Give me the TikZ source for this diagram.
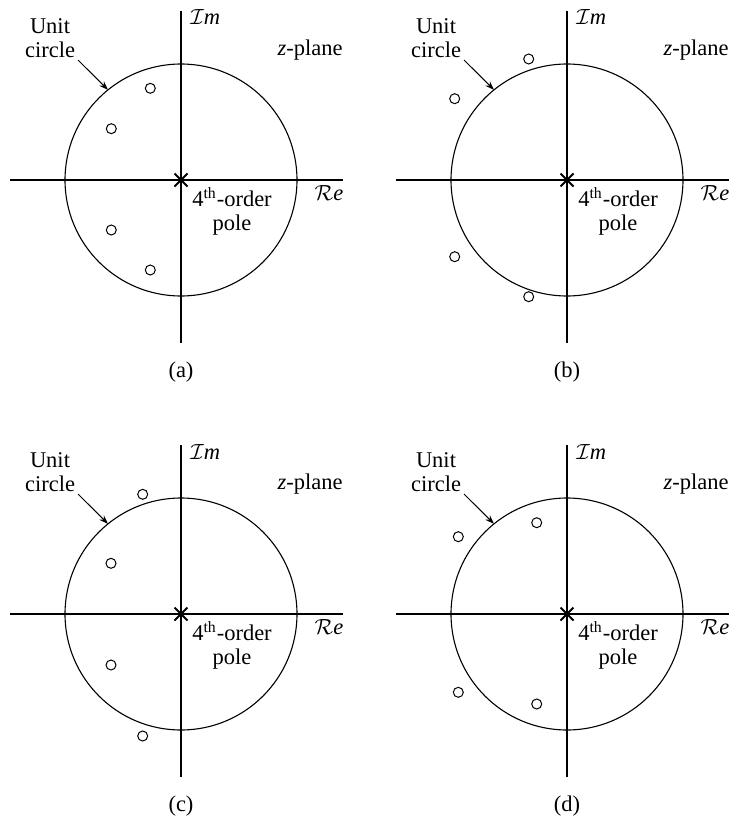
\documentclass[tikz,border=0pt]{standalone}
\usepackage{fontspec}
\setmainfont{Liberation Serif}
\usetikzlibrary{arrows.meta,shapes.misc}
\tikzset{
  axisline/.style={line width=0.55pt},
  ucircle/.style={line width=0.55pt},
  zeromark/.style={circle, draw, line width=0.5pt, minimum size=5pt, inner sep=0pt},
  polemark/.style={cross out, draw, line width=1pt, minimum size=5.5pt, inner sep=0pt},
  lbl/.style={inner sep=0pt, font=\fontsize{11.25}{12}\selectfont},
  ptr/.style={line width=0.5pt, -{Stealth[length=4.5pt,width=3.2pt]}}
}
\newcommand\zplanepanel[8]{%
\begin{scope}[shift={(#2,#3)}]
  \coordinate (#1xl) at (-171,0);
  \coordinate (#1xr) at (162,0);
  \coordinate (#1yb) at (0,-163);
  \coordinate (#1yt) at (0,169);
  \draw[axisline] (#1xl) -- (#1xr);
  \draw[axisline] (#1yb) -- (#1yt);
  \draw[ucircle] (0,0) circle[radius=116];
  \node[polemark] (#1p) at (0,0) {};
  \node[zeromark] (#1z1) at (#5) {};
  \node[zeromark] (#1z2) at (#6) {};
  \node[zeromark] (#1z3) at (#7) {};
  \node[zeromark] (#1z4) at (#8) {};
  \node[lbl, align=center, anchor=base] (#1u) at (-131,123) {Unit\\circle};
  \coordinate (#1us) at (-103,120);
  \coordinate (#1ut) at (129:116);
  \draw[ptr] (#1us) -- (#1ut);
  \node[lbl, anchor=base west] (#1im) at (9,155) {$\mathcal{I}$\textit{m}};
  \node[lbl, anchor=base] (#1zp) at (129,125) {\textit{z}-plane};
  \node[lbl, anchor=base] (#1re) at (148,-20) {$\mathcal{R}$\textit{e}};
  \node[lbl, align=center, anchor=base] (#1pl) at (51,-50) {4\textsuperscript{th}-order\\pole};
  \node[lbl, anchor=base] (#1cap) at (0,-197) {(#4)};
\end{scope}}
\begin{document}
\begin{tikzpicture}[x=0.5pt, y=0.5pt]
\useasboundingbox (0,0) rectangle (735,-819);
\zplanepanel{a}{181}{-180}{a}{-30.7,91.7}{-69.7,51.3}{-69.7,-50}{-30.7,-90}
\zplanepanel{b}{567}{-180}{b}{-38.3,121}{-112.3,81.3}{-112.3,-76.7}{-38.3,-116.7}
\zplanepanel{c}{181}{-614}{c}{-38.3,119.7}{-70,50.7}{-70,-51}{-38.3,-122}
\zplanepanel{d}{567}{-614}{d}{-30.3,91.3}{-108.7,77.3}{-108.7,-78.3}{-30.3,-90}
\end{tikzpicture}
\end{document}
